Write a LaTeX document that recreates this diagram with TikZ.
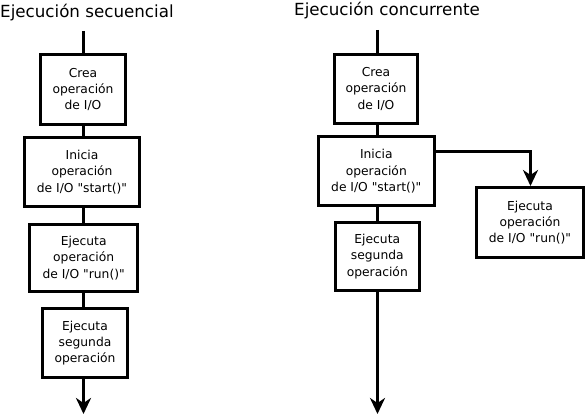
\documentclass[tikz,border=0pt]{standalone}
\usepackage{fontspec}
\setmainfont{DejaVu Sans}[Ligatures=TeXOff]
\usetikzlibrary{arrows.meta}
\tikzset{
  stepbox/.style={draw=black, line width=3pt, inner sep=0pt, align=center,
    font=\fontsize{12.3}{16.3}\selectfont},
  flow/.style={line width=3pt},
  flowarrow/.style={line width=3pt, -{Stealth[length=16pt,width=15pt,inset=5pt]}},
  titletext/.style={anchor=base west, inner sep=0pt, font=\fontsize{16.7}{20}\selectfont}
}
\begin{document}
\begin{tikzpicture}[x=1pt,y=-1pt]
\useasboundingbox (0,0) rectangle (587,420);
% titles
\node[titletext] (t1) at (0,18) {Ejecución secuencial};
\node[titletext] (t2) at (294,16) {Ejecución concurrente};
% left column
\coordinate (ls) at (83.5,31);
\node[stepbox, minimum width=85pt, minimum height=70pt] (L1) at (83,89.5) {Crea\\operación\\de I/O};
\node[stepbox, minimum width=115pt, minimum height=69pt] (L2) at (82,172) {Inicia\\operación\\de I/O "start()"};
\node[stepbox, minimum width=108pt, minimum height=67.6pt] (L3) at (83.7,258) {Ejecuta\\operación\\de I/O "run()"};
\node[stepbox, minimum width=85pt, minimum height=69pt] (L4) at (85,343.3) {Ejecuta\\segunda\\operación};
\coordinate (le) at (83.5,414);
\draw[flow] (ls) -- (ls |- L1.north);
\draw[flow] (L1.south -| ls) -- (L2.north -| ls);
\draw[flow] (L2.south -| ls) -- (L3.north -| ls);
\draw[flow] (L3.south -| ls) -- (L4.north -| ls);
\draw[flowarrow] (L4.south -| ls) -- (le);
% right column
\coordinate (rs) at (377.5,30);
\node[stepbox, minimum width=83pt, minimum height=69pt] (R1) at (376,89) {Crea\\operación\\de I/O};
\node[stepbox, minimum width=116pt, minimum height=69pt] (R2) at (376.3,171.2) {Inicia\\operación\\de I/O "start()"};
\node[stepbox, minimum width=84pt, minimum height=68.6pt] (R3) at (377.3,256.5) {Ejecuta\\segunda\\operación};
\node[stepbox, minimum width=107pt, minimum height=70pt] (R4) at (530,222.5) {Ejecuta\\operación\\de I/O "run()"};
\coordinate (re) at (377.5,414);
\coordinate (rb) at (530.5,151.5);
\draw[flow] (rs) -- (rs |- R1.north);
\draw[flow] (R1.south -| rs) -- (R2.north -| rs);
\draw[flow] (R2.south -| rs) -- (R3.north -| rs);
\draw[flowarrow] (R3.south -| rs) -- (re);
\draw[flowarrow] (R2.east |- rb) -- (rb) -- (R4.north -| rb);
\end{tikzpicture}
\end{document}
